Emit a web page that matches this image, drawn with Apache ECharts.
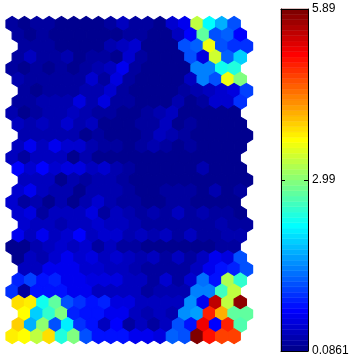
<!DOCTYPE html>
<html>
<head>
<meta charset="utf-8">
<style>
  html, body { margin: 0; padding: 0; background: #fff; }
  #main { width: 352px; height: 357px; }
</style>
<script src="https://cdn.jsdelivr.net/npm/echarts@6/dist/echarts.min.js"></script>
</head>
<body>
<div id="main"></div>
<script>
// 色标范围和刻度
const valueMin = 0.0861;
const valueMax = 5.89;
const barTicks = [0.0861, 2.99, 5.89];
const rowOffsets = [0, 0.5, 1, 0.5];

// 每行19个六边形，从上到下
const row00 = [.26,.13,.23,.23,.1,.1,.1,.1,.23,.42,.26,.2,.13,.46,.65,3.35,2.2,1.8,1.25];
const row01 = [.26,.13,.26,.1,.1,.1,.1,.1,.17,.26,.26,.1,.1,.36,.81,2.75,1.2,1.3,.81];
const row02 = [.26,.23,.26,.1,.1,.1,.13,.29,.36,.46,.15,.1,.1,1.25,1.3,3.6,1.25,1.05,1.0];
const row03 = [.26,.42,.26,.26,.3,.1,.2,.26,.13,.52,.23,.13,.09,.17,1.25,.6,3.4,1.3,1.9];
const row04 = [.2,.1,.2,.09,.23,.09,.2,.29,.36,.68,.2,.13,.17,.13,.17,1.5,1.5,2.3,2.4];
const row05 = [.29,.2,.2,.2,.23,.23,.49,.23,.55,.26,.13,.09,.13,.13,.39,1.45,1.2,3.6,2.9];
const row06 = [.23,.09,.23,.23,.26,.29,.29,.46,.26,.13,.13,.13,.13,.26,.29,.39,.49,.62,1.1];
const row07 = [.26,.23,.29,.29,.29,.59,.29,.62,.2,.2,.13,.13,.17,.33,.09,.23,.49,.46,1.0];
const row08 = [.29,.09,.26,.33,.33,.42,.29,.23,.2,.13,.13,.26,.29,.36,.13,.13,.13,.09,.1];
const row09 = [.39,.29,.42,.29,.52,.29,.39,.13,.1,.1,.23,.23,.42,.13,.23,.13,.13,.09,.09];
const row10 = [.29,.29,.29,.29,.29,.13,.26,.13,.1,.1,.2,.36,.29,.23,.13,.13,.1,.09,.09];
const row11 = [.42,.68,.39,.68,.46,.46,.29,.2,.2,.13,.2,.29,.23,.1,.23,.13,.13,.1,.09];
const row12 = [.42,.23,.39,.39,.39,.13,.29,.17,.17,.09,.17,.17,.17,.17,.17,.17,.1,.1,.09];
const row13 = [.81,.49,.81,.49,.55,.55,.39,.49,.29,.2,.17,.17,.09,.17,.1,.29,.13,.1,.1];
const row14 = [.39,.39,.36,.17,.29,.2,.29,.29,.23,.09,.17,.17,.17,.17,.17,.17,.13,.09,.09];
const row15 = [.49,.71,.39,.29,.29,.17,.29,.29,.29,.23,.17,.09,.2,.2,.23,.17,.29,.17,.26];
const row16 = [.49,.23,.29,.17,.33,.17,.33,.46,.33,.23,.2,.09,.17,.23,.23,.13,.13,.17,.1];
const row17 = [.49,.55,.2,.39,.39,.39,.55,.2,.39,.29,.2,.29,.2,.36,.2,.29,.2,.26,.13];
const row18 = [.49,.39,.39,.29,.39,.39,.46,.39,.39,.29,.23,.23,.23,.2,.2,.23,.29,.2,.2];
const row19 = [.68,.39,.68,.39,.49,.81,.39,.49,.49,.29,.39,.29,.39,.2,.36,.2,.2,.33,.29];
const row20 = [.1,.13,.29,.39,.49,.39,.46,.2,.39,.23,.23,.17,.13,.17,.13,.09,.13,.2,.2];
const row21 = [.13,.39,.29,.49,.68,.49,.59,.39,.49,.39,.29,.39,.2,.39,.2,.39,.68,.55,1.2];
const row22 = [.39,.39,.71,.68,.71,.46,.46,.39,.39,.29,.23,.23,.23,.23,.39,.65,.85,.95,1.2];
const row23 = [.95,1.1,.9,.95,.71,.71,.62,.55,.55,.39,.39,.26,.49,.26,.46,1.4,.9,3.25,2.45];
const row24 = [1.0,.26,.9,.85,.85,.71,.71,.39,.39,.39,.36,.26,.29,.29,.33,1.45,1.45,2.6,3.3];
const row25 = [3.83,3.75,2.35,2.75,1.2,1.05,.85,.95,.55,.55,.36,.39,.36,.36,1.6,.68,5.52,3.3,5.75];
const row26 = [3.7,1.9,2.5,2.9,.95,.9,.85,.71,.68,.39,.33,.36,.33,1.6,1.65,4.95,4.15,2.75,2.75];
const row27 = [3.95,1.8,3.05,1.25,2.1,1.0,.9,.39,.81,.26,.39,.2,.36,1.25,.85,5.2,.75,4.95,2.7];
const row28 = [3.8,3.7,3.35,3.85,2.4,2.9,1.2,.9,.85,.85,.65,.68,.55,1.3,1.25,5.89,5.0,4.8,4.8];

const hexRows = [
  row00, row01, row02, row03, row04, row05, row06, row07, row08, row09,
  row10, row11, row12, row13, row14, row15, row16, row17, row18, row19,
  row20, row21, row22, row23, row24, row25, row26, row27, row28
];

// jet(64)色表
function jetColor(level) {
  const x = (level + 1) / 64;
  const clamp = v => Math.round(Math.max(0, Math.min(1, v)) * 255);
  const r = clamp(Math.min(4 * x - 1.5, -4 * x + 4.5));
  const g = clamp(Math.min(4 * x - 0.5, -4 * x + 3.5));
  const b = clamp(Math.min(4 * x + 0.5, -4 * x + 2.5));
  return `rgb(${r},${g},${b})`;
}

function valueToLevel(v) {
  const level = Math.floor((v - valueMin) / (valueMax - valueMin) * 64);
  return Math.max(0, Math.min(63, level));
}

const hexData = [];
hexRows.forEach((row, r) => {
  row.forEach((v, c) => {
    hexData.push([c + rowOffsets[r % 4], r, v]);
  });
});

// 色标的每一档：[下界, 上界, 档位]
const barData = [];
for (let i = 0; i < 64; i++) {
  const step = (valueMax - valueMin) / 64;
  barData.push([valueMin + i * step, valueMin + (i + 1) * step, i]);
}

const labelFont = { color: '#000', fontSize: 12, fontFamily: '"Liberation Sans", Arial, sans-serif' };

const chart = echarts.init(document.getElementById('main'), null, { renderer: 'canvas' });

chart.setOption({
  animation: false,
  backgroundColor: '#fff',
  grid: [
    { left: 6, top: 18.4, width: 246.6, height: 323.4 },
    { left: 281, top: 9, width: 27, height: 344 }
  ],
  xAxis: [
    { gridIndex: 0, type: 'value', min: -0.5, max: 19.5, show: false },
    {
      gridIndex: 1, type: 'value', min: 0, max: 1, position: 'top', z: 10,
      axisLine: { show: true, onZero: false, lineStyle: { color: '#000' } },
      axisTick: { show: false }, axisLabel: { show: false }, splitLine: { show: false }
    },
    {
      gridIndex: 1, type: 'value', min: 0, max: 1, position: 'bottom', z: 10,
      axisLine: { show: true, onZero: false, lineStyle: { color: '#000' } },
      axisTick: { show: false }, axisLabel: { show: false }, splitLine: { show: false }
    }
  ],
  yAxis: [
    { gridIndex: 0, type: 'value', min: -0.5, max: 28.5, inverse: true, show: false },
    {
      gridIndex: 1, type: 'value', min: valueMin, max: valueMax, position: 'right', z: 10,
      axisLine: { show: true, onZero: false, lineStyle: { color: '#000' } },
      axisTick: { show: true, inside: true, length: 4, customValues: barTicks, lineStyle: { color: '#000' } },
      axisLabel: {
        show: true, margin: 4, customValues: barTicks, hideOverlap: false, ...labelFont,
        formatter: v => String(v)
      },
      splitLine: { show: false }
    },
    {
      gridIndex: 1, type: 'value', min: valueMin, max: valueMax, position: 'left', z: 10,
      axisLine: { show: true, onZero: false, lineStyle: { color: '#000' } },
      axisTick: { show: true, inside: true, length: 4, customValues: barTicks, lineStyle: { color: '#000' } },
      axisLabel: { show: false },
      splitLine: { show: false }
    }
  ],
  series: [
    {
      type: 'custom',
      xAxisIndex: 0,
      yAxisIndex: 0,
      silent: true,
      clip: false,
      data: hexData,
      renderItem: (params, api) => {
        const x = api.value(0);
        const y = api.value(1);
        const points = [
          api.coord([x, y - 2 / 3]),
          api.coord([x + 0.5, y - 1 / 3]),
          api.coord([x + 0.5, y + 1 / 3]),
          api.coord([x, y + 2 / 3]),
          api.coord([x - 0.5, y + 1 / 3]),
          api.coord([x - 0.5, y - 1 / 3])
        ];
        const color = jetColor(valueToLevel(api.value(2)));
        return {
          type: 'polygon',
          shape: { points },
          style: { fill: color, stroke: color, lineWidth: 1.2 }
        };
      }
    },
    {
      type: 'custom',
      xAxisIndex: 1,
      yAxisIndex: 1,
      silent: true,
      z: 1,
      data: barData,
      renderItem: (params, api) => {
        const p0 = api.coord([0, api.value(0)]);
        const p1 = api.coord([1, api.value(1)]);
        const color = jetColor(api.value(2));
        return {
          type: 'rect',
          shape: { x: p0[0], y: p1[1], width: p1[0] - p0[0], height: p0[1] - p1[1] },
          style: { fill: color, stroke: color, lineWidth: 0.5 }
        };
      }
    }
  ]
});
</script>
</body>
</html>
